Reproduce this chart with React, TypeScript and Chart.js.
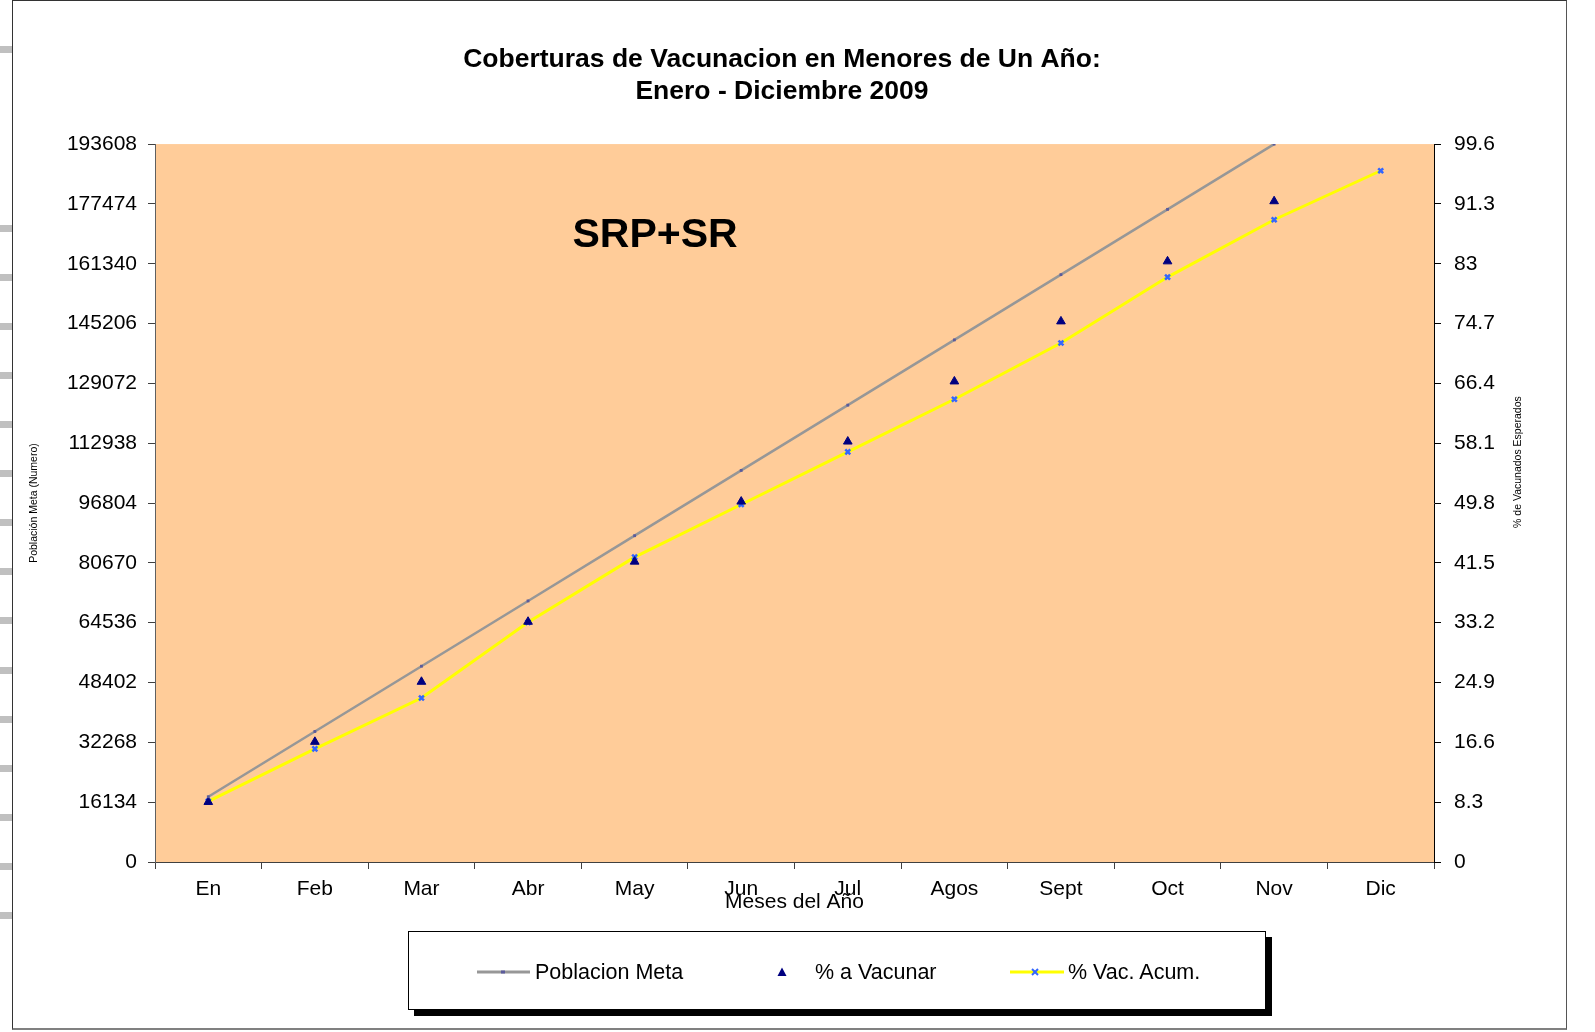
import { useEffect, useRef } from 'react';
import { Chart, registerables } from 'chart.js';

Chart.register(...registerables);

const FONT = '"Liberation Sans", Arial, Helvetica, sans-serif';

const titleLines = ['Coberturas de Vacunacion en Menores de Un Año:', 'Enero - Diciembre 2009'];
const months = ['En', 'Feb', 'Mar', 'Abr', 'May', 'Jun', 'Jul', 'Agos', 'Sept', 'Oct', 'Nov', 'Dic'];
const poblacionMeta = [17600, 35200, 52800, 70400, 88000, 105600, 123200, 140800, 158400, 176000, 193600, null];
const pctVacunar = [8.33, 16.67, 25, 33.33, 41.67, 50, 58.33, 66.67, 75, 83.33, 91.67, null];
const pctVacAcum = [8.4, 15.7, 22.75, 33.25, 42.3, 49.6, 56.9, 64.2, 72.0, 81.15, 89.1, 95.9];
const leftTicks = [0, 16134, 32268, 48402, 64536, 80670, 96804, 112938, 129072, 145206, 161340, 177474, 193608];
const rightTicks = [0, 8.3, 16.6, 24.9, 33.2, 41.5, 49.8, 58.1, 66.4, 74.7, 83, 91.3, 99.6];
const seriesNames = ['Poblacion Meta', '% a Vacunar', '% Vac. Acum.'];
const leftAxisTitle = 'Población Meta (Numero)';
const rightAxisTitle = '% de Vacunados Esperados';
const xAxisTitle = 'Meses del Año';
const annotation = 'SRP+SR';

// decorative spreadsheet-edge marks on the far left
const edgeMarks = [49, 228, 277, 326, 375, 424, 473, 522, 571, 620, 670, 719, 768, 817, 866, 915];

const plotBg = {
  id: 'plotBg',
  beforeDraw(chart: any) {
    const { ctx, chartArea: a } = chart;
    ctx.save();
    ctx.fillStyle = '#FFCC99';
    ctx.fillRect(a.left, a.top, a.right - a.left, a.bottom - a.top);
    ctx.restore();
  },
};

const extraText = {
  id: 'extraText',
  beforeDatasetsDraw(chart: any) {
    const { ctx, chartArea: a } = chart;
    const w = a.right - a.left;
    ctx.save();
    ctx.fillStyle = '#000';
    ctx.font = `bold 41px ${FONT}`;
    ctx.textAlign = 'center';
    ctx.textBaseline = 'middle';
    ctx.fillText(annotation, a.left + w * 0.391, a.top + 92);
    ctx.restore();
  },
  afterDraw(chart: any) {
    const { ctx, chartArea: a } = chart;
    ctx.save();
    ctx.translate(a.right + 84, a.top + 318);
    ctx.rotate(-Math.PI / 2);
    ctx.fillStyle = '#000';
    ctx.font = `10.5px ${FONT}`;
    ctx.textAlign = 'center';
    ctx.textBaseline = 'middle';
    ctx.fillText(rightAxisTitle, 0, 0);
    ctx.restore();
  },
};

export default function App() {
  const ref = useRef<HTMLCanvasElement | null>(null);

  useEffect(() => {
    if (!ref.current) return;
    Chart.defaults.font.family = FONT;
    const chart = new Chart(ref.current, {
      type: 'line',
      data: {
        labels: months,
        datasets: [
          {
            label: seriesNames[0],
            data: poblacionMeta,
            yAxisID: 'y',
            borderColor: '#979797',
            borderWidth: 2.5,
            pointStyle: 'rect',
            pointRadius: 2,
            pointBackgroundColor: '#5b5b9b',
            pointBorderWidth: 0,
            tension: 0,
          },
          {
            label: seriesNames[1],
            data: pctVacunar,
            yAxisID: 'y1',
            showLine: false,
            pointStyle: 'triangle',
            pointRadius: 5,
            pointBackgroundColor: '#000080',
            pointBorderColor: '#000080',
            pointBorderWidth: 1,
          },
          {
            label: seriesNames[2],
            data: pctVacAcum,
            yAxisID: 'y1',
            borderColor: '#FFFF00',
            borderWidth: 3,
            pointStyle: 'crossRot',
            pointRadius: 3.5,
            pointBorderColor: '#3366FF',
            pointBorderWidth: 2.5,
            tension: 0,
          },
        ],
      },
      options: {
        responsive: false,
        animation: false,
        events: [],
        layout: { padding: { left: 24, right: 55, top: 0, bottom: 117 } },
        plugins: {
          legend: { display: false },
          tooltip: { enabled: false },
          title: {
            display: true,
            text: titleLines,
            color: '#000',
            font: { size: 26.5, weight: 'bold', family: FONT, lineHeight: 1.19 },
            padding: { top: 44.25, bottom: 36.75 },
          },
        },
        scales: {
          x: {
            type: 'category',
            offset: true,
            grid: { offset: true, drawOnChartArea: false, tickLength: 7, color: '#404040' },
            border: { color: '#404040', width: 1 },
            ticks: { font: { size: 21, family: FONT }, color: '#000', padding: 8, maxRotation: 0, autoSkip: false },
            title: { display: true, text: xAxisTitle, color: '#000', font: { size: 21, family: FONT }, padding: { top: 0, bottom: 0 } },
            afterFit: (s: any) => { s.height = 53; },
          },
          y: {
            position: 'left',
            min: 0,
            max: leftTicks[leftTicks.length - 1],
            afterBuildTicks: (s: any) => { s.ticks = leftTicks.map((v) => ({ value: v })); },
            ticks: { font: { size: 21, family: FONT }, color: '#000', padding: 11, callback: (v: any) => String(v) },
            grid: { drawOnChartArea: false, tickLength: 7, color: '#404040' },
            border: { color: '#606060', width: 1 },
            title: { display: true, text: leftAxisTitle, color: '#000', font: { size: 10.5, family: FONT }, padding: { top: 4, bottom: 0 } },
            afterFit: (s: any) => { s.width = 131; },
          },
          y1: {
            position: 'right',
            min: 0,
            max: rightTicks[rightTicks.length - 1],
            afterBuildTicks: (s: any) => { s.ticks = rightTicks.map((v) => ({ value: v })); },
            ticks: { font: { size: 21, family: FONT }, color: '#000', padding: 13, callback: (v: any) => String(Number(Number(v).toFixed(1))) },
            grid: { drawOnChartArea: false, tickLength: 7, color: '#000' },
            border: { color: '#000', width: 1 },
            afterFit: (s: any) => { s.width = 106; },
          },
        },
      },
      plugins: [plotBg, extraText],
    } as any);
    return () => chart.destroy();
  }, []);

  const legendText: React.CSSProperties = {
    position: 'absolute',
    top: 40,
    transform: 'translateY(-50%)',
    fontFamily: FONT,
    fontSize: 21.5,
    lineHeight: '26px',
    color: '#000',
    whiteSpace: 'nowrap',
  };

  return (
    <div style={{ position: 'fixed', left: 0, top: 0, width: 1595, height: 1032, background: '#fff', overflow: 'hidden' }}>
      {edgeMarks.map((y, i) => (
        <div key={i} style={{ position: 'absolute', left: 0, top: y - 3.5, width: 12, height: 7, background: '#c0c0c0' }} />
      ))}
      <div
        style={{
          position: 'absolute', left: 12, top: 0, width: 1555, height: 1030, boxSizing: 'border-box',
          borderLeft: '1px solid #333', borderTop: '1px solid #333', borderRight: '1px solid #555', borderBottom: '2px solid #808080',
        }}
      />
      <canvas ref={ref} width={1595} height={1032} style={{ position: 'absolute', left: 0, top: 0, width: 1595, height: 1032 }} />
      <div
        style={{
          position: 'absolute', left: 408, top: 931, width: 858, height: 79, boxSizing: 'border-box',
          border: '1px solid #000', boxShadow: '6px 6px 0 #000', background: '#fff',
        }}
      >
        <svg style={{ position: 'absolute', left: 0, top: 0 }} width={858} height={79}>
          <line x1={68} y1={40} x2={121} y2={40} stroke="#979797" strokeWidth={3} />
          <rect x={92} y={38.5} width={4} height={3} fill="#5b5b9b" />
          <polygon points="373,35.5 377.5,44 368.5,44" fill="#000080" />
          <line x1={601} y1={40} x2={655} y2={40} stroke="#FFFF00" strokeWidth={3} />
          <line x1={623} y1={37} x2={629} y2={43} stroke="#3366FF" strokeWidth={2} />
          <line x1={629} y1={37} x2={623} y2={43} stroke="#3366FF" strokeWidth={2} />
        </svg>
        <span style={{ ...legendText, left: 126 }}>{seriesNames[0]}</span>
        <span style={{ ...legendText, left: 406 }}>{seriesNames[1]}</span>
        <span style={{ ...legendText, left: 659 }}>{seriesNames[2]}</span>
      </div>
    </div>
  );
}
